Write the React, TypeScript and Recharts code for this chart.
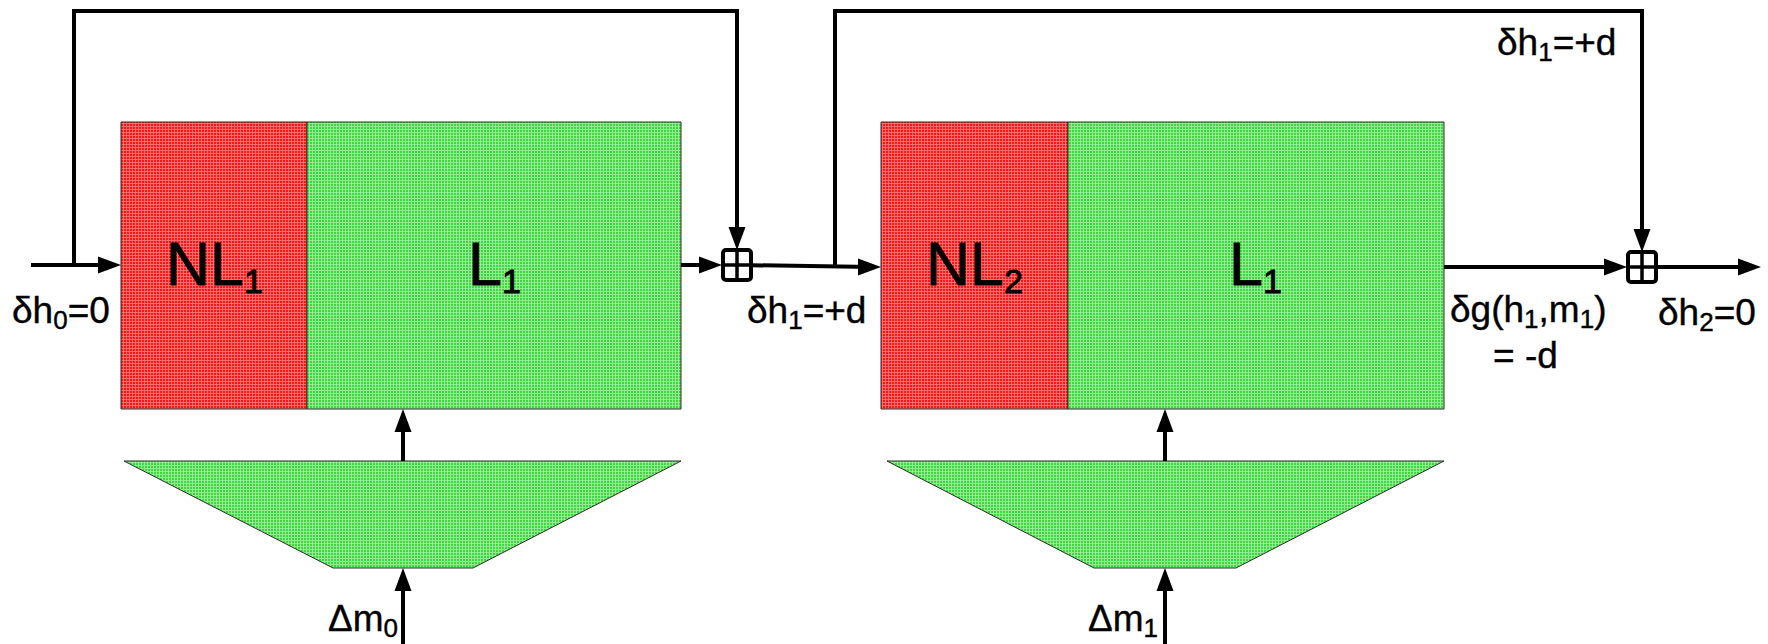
import React from 'react';
import { ComposedChart, XAxis, YAxis, Line, Scatter, ReferenceArea } from 'recharts';

// Diagram coordinate space (units of the drawing)
const W = 1768;
const H = 644;

// Blocks (non-linear part in red, linear part in green)
const nlBlocks = [
  { id: 'nl1', x1: 121, x2: 307, y1: 122, y2: 409 },
  { id: 'nl2', x1: 881, x2: 1068, y1: 122, y2: 409 },
];
const linBlocks = [
  { id: 'l1a', x1: 307, x2: 681, y1: 122, y2: 409 },
  { id: 'l1b', x1: 1068, x2: 1444, y1: 122, y2: 409 },
];
// Trapezoids (top edge x1..x2 at y1, bottom edge bx1..bx2 at y2)
const trapezoids = [
  { id: 't0', x1: 124, x2: 681, y1: 461, y2: 568, bx1: 333, bx2: 473 },
  { id: 't1', x1: 887, x2: 1444, y1: 461, y2: 568, bx1: 1094, bx2: 1236 },
];

// Wires (polylines)
const inputWire = [{ x: 31, y: 265 }, { x: 110, y: 265 }];
const feedback1 = [{ x: 74, y: 265 }, { x: 74, y: 11 }, { x: 737, y: 11 }, { x: 737, y: 240 }];
const out1Wire = [{ x: 681, y: 265 }, { x: 714, y: 265 }];
const link12Wire = [{ x: 737, y: 265 }, { x: 872, y: 267 }];
const feedback2 = [{ x: 835, y: 266 }, { x: 835, y: 11 }, { x: 1642, y: 11 }, { x: 1642, y: 242 }];
const out2Wire = [{ x: 1444, y: 267 }, { x: 1618, y: 267 }];
const finalWire = [{ x: 1642, y: 267 }, { x: 1750, y: 267 }];
const mod0Up = [{ x: 403, y: 461 }, { x: 403, y: 418 }];
const dm0Up = [{ x: 403, y: 644 }, { x: 403, y: 576 }];
const mod1Up = [{ x: 1165, y: 461 }, { x: 1165, y: 418 }];
const dm1Up = [{ x: 1165, y: 644 }, { x: 1165, y: 576 }];
const wires = [inputWire, feedback1, out1Wire, link12Wire, feedback2, out2Wire, finalWire, mod0Up, dm0Up, mod1Up, dm1Up];

// Arrow heads (tip position + direction)
const arrowHeads = [
  { x: 121, y: 265, dir: 'right' },
  { x: 737, y: 250, dir: 'down' },
  { x: 722, y: 265, dir: 'right' },
  { x: 881, y: 267, dir: 'right' },
  { x: 1642, y: 252, dir: 'down' },
  { x: 1627, y: 267, dir: 'right' },
  { x: 1761, y: 267, dir: 'right' },
  { x: 403, y: 409, dir: 'up' },
  { x: 403, y: 568, dir: 'up' },
  { x: 1165, y: 409, dir: 'up' },
  { x: 1165, y: 568, dir: 'up' },
];

// Summation nodes
const sumNodes = [
  { x: 737, y: 265 },
  { x: 1642, y: 267 },
];

// Text labels (anchor = start of text, baseline)
const blockLabels = [
  { x: 166, y: 285, parts: [{ t: 'NL' }, { t: '1', sub: true }] },
  { x: 468, y: 285, parts: [{ t: 'L' }, { t: '1', sub: true }] },
  { x: 926, y: 285, parts: [{ t: 'NL' }, { t: '2', sub: true }] },
  { x: 1229, y: 285, parts: [{ t: 'L' }, { t: '1', sub: true }] },
];
const signalLabels = [
  { x: 12, y: 323, parts: [{ t: 'δh' }, { t: '0', sub: true }, { t: '=0' }] },
  { x: 747, y: 323, parts: [{ t: 'δh' }, { t: '1', sub: true }, { t: '=+d' }] },
  { x: 1497, y: 55, parts: [{ t: 'δh' }, { t: '1', sub: true }, { t: '=+d' }] },
  { x: 1450, y: 322, parts: [{ t: 'δg(h' }, { t: '1', sub: true }, { t: ',m' }, { t: '1', sub: true }, { t: ')' }] },
  { x: 1493, y: 368, parts: [{ t: '= -d' }] },
  { x: 1658, y: 325, parts: [{ t: 'δh' }, { t: '2', sub: true }, { t: '=0' }] },
  { x: 328, y: 631, parts: [{ t: 'Δm' }, { t: '0', sub: true }] },
  { x: 1088, y: 631, parts: [{ t: 'Δm' }, { t: '1', sub: true }] },
];

const FONT = "'Liberation Sans', Arial, Helvetica, sans-serif";

function renderParts(parts: any[], subSize: number, shift: number) {
  let inSub = false;
  return parts.map((p, i) => {
    let dy = 0;
    if (p.sub && !inSub) dy = shift;
    if (!p.sub && inSub) dy = -shift;
    inSub = !!p.sub;
    return (
      <tspan key={i} dy={dy} fontSize={p.sub ? subSize : undefined}>
        {p.t}
      </tspan>
    );
  });
}

const BlockLabel = (props: any) => {
  const { cx, cy, payload } = props;
  return (
    <text x={cx} y={cy} fontFamily={FONT} fontSize={61} fill="#000" stroke="#000" strokeWidth={0.9}>
      {renderParts(payload.parts, 34, 8)}
    </text>
  );
};

const SignalLabel = (props: any) => {
  const { cx, cy, payload } = props;
  return (
    <text x={cx} y={cy} fontFamily={FONT} fontSize={37} fill="#000" stroke="#000" strokeWidth={0.4}>
      {renderParts(payload.parts, 26, 6)}
    </text>
  );
};

const ArrowHead = (props: any) => {
  const { cx, cy, payload } = props;
  const L = 23;
  const w = 8.5;
  let pts = '';
  if (payload.dir === 'right') pts = `${cx},${cy} ${cx - L},${cy - w} ${cx - L},${cy + w}`;
  else if (payload.dir === 'down') pts = `${cx},${cy} ${cx - w},${cy - L} ${cx + w},${cy - L}`;
  else pts = `${cx},${cy} ${cx - w},${cy + L} ${cx + w},${cy + L}`;
  return <polygon points={pts} fill="#000" stroke="none" />;
};

const SumNode = (props: any) => {
  const { cx, cy } = props;
  const hw = 14;
  const hh = 15;
  return (
    <g>
      <rect x={cx - hw} y={cy - hh} width={hw * 2} height={hh * 2} rx={3} ry={3} fill="#fff" stroke="#000" strokeWidth={4} />
      <line x1={cx} y1={cy - hh} x2={cx} y2={cy + hh} stroke="#000" strokeWidth={3.5} />
      <line x1={cx - hw} y1={cy} x2={cx + hw} y2={cy} stroke="#000" strokeWidth={3.5} />
    </g>
  );
};

const makeTrapShape = (t: any) => (props: any) => {
  const { x, y, width, height } = props;
  const kx = width / (t.x2 - t.x1);
  const bl = x + (t.bx1 - t.x1) * kx;
  const br = x + (t.bx2 - t.x1) * kx;
  const pts = `${x},${y} ${x + width},${y} ${br},${y + height} ${bl},${y + height}`;
  return <polygon points={pts} fill="url(#greenGrid)" stroke="#2a2a2a" strokeWidth={1} />;
};

export default function App() {
  return (
    <div style={{ position: 'absolute', left: 0, top: 0, width: W, height: H, background: '#fff' }}>
      <svg width={0} height={0} style={{ position: 'absolute' }}>
        <defs>
          <pattern id="redGrid" width={3} height={3} patternUnits="userSpaceOnUse">
            <rect width={3} height={3} fill="#ff1414" />
            <rect width={3} height={1} fill="#ff6a6a" />
            <rect width={1} height={3} fill="#ff7070" />
          </pattern>
          <pattern id="greenGrid" width={3} height={3} patternUnits="userSpaceOnUse">
            <rect width={3} height={3} fill="#3ed83e" />
            <rect width={3} height={1} fill="#90ea90" />
            <rect width={1} height={3} fill="#94ec94" />
          </pattern>
        </defs>
      </svg>
      <ComposedChart width={W} height={H} margin={{ top: 0, right: 0, bottom: 0, left: 0 }}>
        <XAxis type="number" dataKey="x" domain={[0, W]} allowDataOverflow hide />
        <YAxis type="number" dataKey="y" domain={[0, H]} allowDataOverflow reversed hide />
        {nlBlocks.map((b) => (
          <ReferenceArea key={b.id} x1={b.x1} x2={b.x2} y1={b.y1} y2={b.y2} fill="url(#redGrid)" fillOpacity={1} stroke="#2a2a2a" strokeWidth={1} />
        ))}
        {linBlocks.map((b) => (
          <ReferenceArea key={b.id} x1={b.x1} x2={b.x2} y1={b.y1} y2={b.y2} fill="url(#greenGrid)" fillOpacity={1} stroke="#2a2a2a" strokeWidth={1} />
        ))}
        {trapezoids.map((t) => (
          <ReferenceArea key={t.id} x1={t.x1} x2={t.x2} y1={t.y1} y2={t.y2} shape={makeTrapShape(t)} />
        ))}
        {wires.map((w, i) => (
          <Line
            key={'w' + i}
            data={w}
            dataKey="y"
            type="linear"
            stroke="#000"
            strokeWidth={4}
            strokeLinejoin="miter"
            strokeLinecap="butt"
            dot={false}
            activeDot={false}
            isAnimationActive={false}
          />
        ))}
        <Scatter data={arrowHeads} dataKey="y" shape={ArrowHead} isAnimationActive={false} />
        <Scatter data={sumNodes} dataKey="y" shape={SumNode} isAnimationActive={false} />
        <Scatter data={blockLabels} dataKey="y" shape={BlockLabel} isAnimationActive={false} />
        <Scatter data={signalLabels} dataKey="y" shape={SignalLabel} isAnimationActive={false} />
      </ComposedChart>
    </div>
  );
}
